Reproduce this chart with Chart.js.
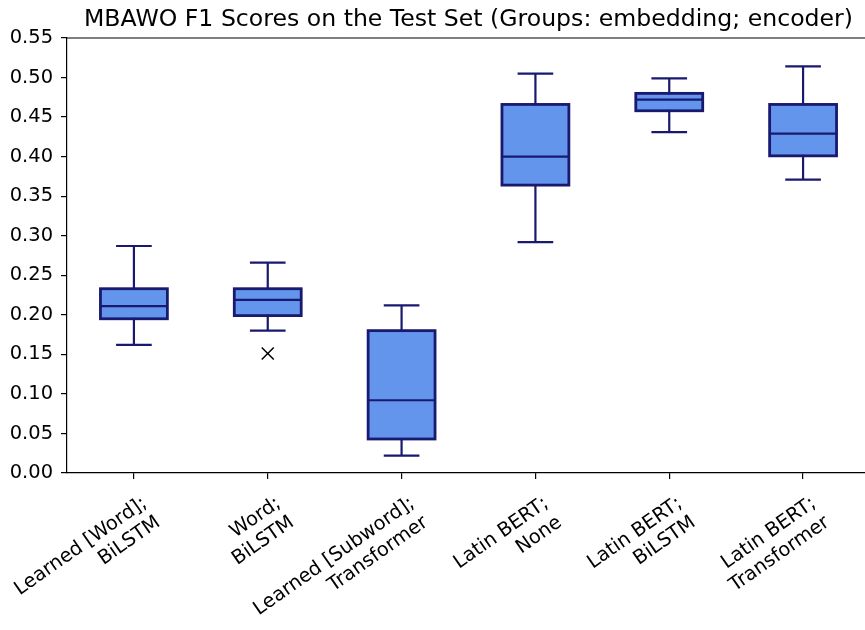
<!DOCTYPE html>
<html>
<head>
<meta charset="utf-8">
<script src="https://cdn.jsdelivr.net/npm/chart.js@4.4.1/dist/chart.umd.min.js"></script>
<style>
  html, body { margin: 0; padding: 0; background: #ffffff; overflow: hidden; }
  canvas { display: block; }
</style>
</head>
<body>
<canvas id="c" width="880" height="630"></canvas>
<script>
// ---- data ----
const categories = [
  ["Learned [Word];", "BiLSTM"],
  ["Word;", "BiLSTM"],
  ["Learned [Subword];", "Transformer"],
  ["Latin BERT;", "None"],
  ["Latin BERT;", "BiLSTM"],
  ["Latin BERT;", "Transformer"]
];
const whiskerLow  = [0.162, 0.180, 0.022, 0.292, 0.431, 0.371];
const q1Values    = [0.195, 0.199, 0.043, 0.364, 0.458, 0.401];
const medians     = [0.211, 0.219, 0.092, 0.400, 0.472, 0.429];
const q3Values    = [0.233, 0.233, 0.180, 0.466, 0.480, 0.466];
const whiskerHigh = [0.287, 0.266, 0.212, 0.505, 0.499, 0.514];
const outliers    = [null, 0.151, null, null, null, null];
const yTicks      = [0.00, 0.05, 0.10, 0.15, 0.20, 0.25, 0.30, 0.35, 0.40, 0.45, 0.50, 0.55];
const titleText   = "MBAWO F1 Scores on the Test Set (Groups: embedding; encoder)";

const FONT = "'DejaVu Sans', 'Liberation Sans', sans-serif";
const FS = 19.44;
const TITLE_FS = 23.6;
const EDGE = '#191970';
const FILL = '#6495ED';

const boxPlugin = {
  id: 'boxplotParts',
  afterDatasetsDraw(chart) {
    const ctx = chart.ctx;
    const y = chart.scales.y;
    const meta = chart.getDatasetMeta(0);
    ctx.save();
    ctx.strokeStyle = EDGE;
    meta.data.forEach((bar, i) => {
      const props = bar.getProps(['x', 'width'], true);
      const cx = props.x, w = props.width;
      const top = y.getPixelForValue(q3Values[i]);
      const bot = y.getPixelForValue(q1Values[i]);
      const med = y.getPixelForValue(medians[i]);
      const hi = y.getPixelForValue(whiskerHigh[i]);
      const lo = y.getPixelForValue(whiskerLow[i]);
      // whiskers + caps
      ctx.lineWidth = 2.2;
      ctx.lineCap = 'square';
      ctx.beginPath();
      ctx.moveTo(cx, top); ctx.lineTo(cx, hi);
      ctx.moveTo(cx, bot); ctx.lineTo(cx, lo);
      ctx.moveTo(cx - w / 4, hi); ctx.lineTo(cx + w / 4, hi);
      ctx.moveTo(cx - w / 4, lo); ctx.lineTo(cx + w / 4, lo);
      ctx.stroke();
      // box outline (centred on the quartile lines)
      ctx.lineWidth = 2.8;
      ctx.lineCap = 'butt';
      ctx.lineJoin = 'miter';
      ctx.strokeRect(cx - w / 2, top, w, bot - top);
      // median
      ctx.lineWidth = 2.2;
      ctx.beginPath();
      ctx.moveTo(cx - w / 2, med); ctx.lineTo(cx + w / 2, med);
      ctx.stroke();
    });
    ctx.restore();
  },
  afterDraw(chart) {
    const ctx = chart.ctx;
    const a = chart.chartArea;
    ctx.save();
    // top and right spines
    ctx.strokeStyle = '#000000';
    ctx.lineWidth = 1.2;
    ctx.beginPath();
    ctx.moveTo(a.left, a.top); ctx.lineTo(a.right, a.top); ctx.lineTo(a.right, a.bottom);
    ctx.stroke();
    // title centred over the axes
    ctx.fillStyle = '#000000';
    ctx.font = TITLE_FS + 'px ' + FONT;
    ctx.textAlign = 'center';
    ctx.textBaseline = 'alphabetic';
    ctx.fillText(titleText, (a.left + a.right) / 2, a.top - 12);
    ctx.restore();
  }
};

new Chart(document.getElementById('c'), {
  type: 'bar',
  data: {
    labels: categories,
    datasets: [
      {
        label: 'box',
        data: q1Values.map((v, i) => [v, q3Values[i]]),
        backgroundColor: FILL,
        borderWidth: 0,
        categoryPercentage: 1.0,
        barPercentage: 0.5,
        grouped: false,
        order: 2
      },
      {
        type: 'line',
        label: 'outliers',
        data: outliers,
        showLine: false,
        pointStyle: 'crossRot',
        pointRadius: 8.5,
        pointBorderColor: '#000000',
        pointBorderWidth: 1.5,
        pointBackgroundColor: '#000000',
        order: 1
      }
    ]
  },
  options: {
    responsive: false,
    animation: false,
    devicePixelRatio: 1,
    layout: { padding: { top: 38, right: 9, left: 0, bottom: 0 } },
    plugins: {
      legend: { display: false },
      title: { display: false },
      tooltip: { enabled: false }
    },
    scales: {
      x: {
        type: 'category',
        offset: true,
        grid: { display: true, drawOnChartArea: false, drawTicks: true, tickLength: 6, offset: false, color: '#000000', lineWidth: 1.2 },
        border: { display: true, color: '#000000', width: 1.2 },
        ticks: {
          autoSkip: false,
          maxRotation: 35,
          minRotation: 35,
          labelOffset: 11,
          padding: 13,
          color: '#000000',
          font: { family: FONT, size: FS }
        },
        afterFit(scale) {
          scale.height = 157;
          scale.paddingLeft = 0;
          scale.paddingRight = 0;
        }
      },
      y: {
        min: 0,
        max: 0.55,
        afterBuildTicks(scale) { scale.ticks = yTicks.map(v => ({ value: v })); },
        grid: { display: true, drawOnChartArea: false, drawTicks: true, tickLength: 6, color: '#000000', lineWidth: 1.2 },
        border: { display: true, color: '#000000', width: 1.2 },
        ticks: {
          padding: 8,
          color: '#000000',
          font: { family: FONT, size: FS },
          callback: (v) => Number(v).toFixed(2)
        },
        afterFit(scale) { scale.width = 67; }
      }
    }
  },
  plugins: [boxPlugin]
});
</script>
</body>
</html>
